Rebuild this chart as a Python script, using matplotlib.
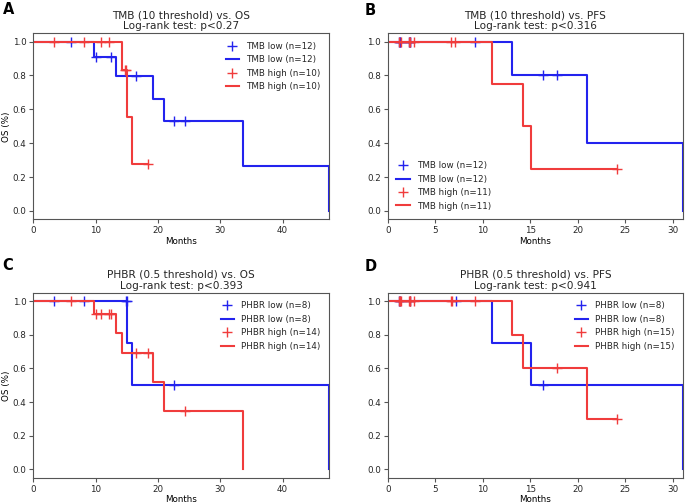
import numpy as np
import matplotlib
matplotlib.use("Agg")
import matplotlib.pyplot as plt

# Kaplan-Meier curves: step times, survival, censor times

# A: TMB (10 threshold) vs. OS
a_low_t = [0, 9.7, 13.2, 19.2, 21.0, 33.7, 47.4]
a_low_s = [1.0, 0.909, 0.795, 0.662, 0.530, 0.265, 0.0]
a_low_c = [6.1, 10.1, 12.5, 16.4, 22.5, 24.3]
a_high_t = [0, 14.3, 15.1, 15.9, 18.4]
a_high_s = [1.0, 0.833, 0.556, 0.278, 0.278]
a_high_c = [3.4, 8.1, 10.8, 12.2, 14.7, 14.9, 18.4]

# B: TMB (10 threshold) vs. PFS
b_low_t = [0, 13.1, 20.95, 31.1]
b_low_s = [1.0, 0.8, 0.4, 0.0]
b_low_c = [1.2, 1.3, 1.3, 2.2, 2.3, 2.3, 9.2, 16.4, 17.8]
b_high_t = [0, 11.0, 14.2, 15.1, 24.2]
b_high_s = [1.0, 0.75, 0.5, 0.25, 0.25]
b_high_c = [1.2, 1.4, 2.2, 2.4, 2.8, 6.7, 7.1, 24.2]

# C: PHBR (0.5 threshold) vs. OS
c_low_t = [0, 15.1, 15.9, 47.4]
c_low_s = [1.0, 0.75, 0.5, 0.0]
c_low_c = [3.4, 8.1, 14.8, 15.0, 22.5]
c_high_t = [0, 9.7, 13.2, 14.3, 19.2, 21.0, 33.7]
c_high_s = [1.0, 0.923, 0.808, 0.692, 0.519, 0.346, 0.0]
c_high_c = [6.1, 10.1, 10.8, 12.2, 12.5, 16.4, 18.4, 24.3]

# D: PHBR (0.5 threshold) vs. PFS
d_low_t = [0, 11.0, 15.1, 31.1]
d_low_s = [1.0, 0.75, 0.5, 0.0]
d_low_c = [1.2, 1.3, 2.3, 7.2, 16.4]
d_high_t = [0, 13.1, 14.2, 20.95, 24.2]
d_high_s = [1.0, 0.8, 0.6, 0.3, 0.3]
d_high_c = [1.2, 1.3, 1.4, 2.2, 2.3, 2.4, 2.8, 6.7, 6.8, 9.2, 17.8, 24.2]

titles = ["TMB (10 threshold) vs. OS\nLog-rank test: p<0.27",
          "TMB (10 threshold) vs. PFS\nLog-rank test: p<0.316",
          "PHBR (0.5 threshold) vs. OS\nLog-rank test: p<0.393",
          "PHBR (0.5 threshold) vs. PFS\nLog-rank test: p<0.941"]
labels = [("TMB low (n=12)", "TMB high (n=10)"),
          ("TMB low (n=12)", "TMB high (n=11)"),
          ("PHBR low (n=8)", "PHBR high (n=14)"),
          ("PHBR low (n=8)", "PHBR high (n=15)")]
letters = ["A", "B", "C", "D"]

plt.rcParams['font.family'] = 'DejaVu Sans'
plt.rcParams['font.size'] = 6.3
plt.rcParams['text.color'] = '#262626'

BLUE = '#2323ee'
RED = '#f03c3c'
GRAY = '#555555'

fig = plt.figure(figsize=(6.85, 5.03), dpi=100)
boxes = [[0.0486, 0.564, 0.4314, 0.370],
         [0.566, 0.564, 0.431, 0.370],
         [0.0486, 0.050, 0.4314, 0.368],
         [0.566, 0.050, 0.431, 0.368]]
curves = [(a_low_t, a_low_s, a_low_c, a_high_t, a_high_s, a_high_c),
          (b_low_t, b_low_s, b_low_c, b_high_t, b_high_s, b_high_c),
          (c_low_t, c_low_s, c_low_c, c_high_t, c_high_s, c_high_c),
          (d_low_t, d_low_s, d_low_c, d_high_t, d_high_s, d_high_c)]
legend_loc = ['upper right', 'lower left', 'upper right', 'upper right']
xmax = [47.4, 31.1, 47.4, 31.1]
letter_pos = [(0.004, 0.996), (0.532, 0.994), (0.003, 0.487), (0.532, 0.485)]


def surv_at(t, s, c):
    t = np.array(t)
    idx = np.searchsorted(t, c, side='right') - 1
    return np.array(s)[idx]


for i in range(4):
    ax = fig.add_axes(boxes[i])
    lt, ls, lc, ht, hs, hc = curves[i]
    lab_low, lab_high = labels[i]
    ax.plot(lc, surv_at(lt, ls, lc), '+', color=BLUE, ms=7, mew=1, label=lab_low)
    ax.step(lt, ls, where='post', color=BLUE, lw=1.5, label=lab_low)
    ax.plot(hc, surv_at(ht, hs, hc), '+', color=RED, ms=7, mew=1, label=lab_high)
    ax.step(ht, hs, where='post', color=RED, lw=1.5, label=lab_high)

    ax.set_xlim(0, xmax[i])
    ax.set_ylim(-0.05, 1.05)
    ax.set_yticks([0.0, 0.2, 0.4, 0.6, 0.8, 1.0])
    ax.set_title(titles[i], fontsize=7.6, pad=3, linespacing=1.1)
    ax.set_xlabel("Months", labelpad=1)
    if i % 2 == 0:
        ax.set_ylabel("OS (%)", labelpad=1)
    for sp in ax.spines.values():
        sp.set_color(GRAY)
    ax.tick_params(colors=GRAY, labelcolor='#262626', length=3, pad=2)
    ax.legend(loc=legend_loc[i], frameon=False, fontsize=6.3,
              handlelength=1.5, handletextpad=0.8, labelspacing=0.5,
              borderaxespad=0.6)

    fig.text(letter_pos[i][0], letter_pos[i][1], letters[i], fontsize=10.5,
             fontweight='bold', va='top', ha='left', color='black')

fig.savefig("out.png", dpi=100)
